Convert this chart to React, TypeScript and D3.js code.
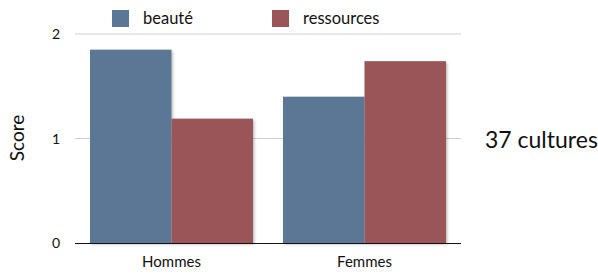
import React, { useRef, useEffect } from 'react';
import * as d3 from 'd3';

const categories = ['Hommes', 'Femmes'];
const seriesNames = ['beauté', 'ressources'];
const beaute = [1.85, 1.4];
const ressources = [1.19, 1.74];
const yTicks = [0, 1, 2];
const colors = ['#5b7696', '#9a5558'];

const App: React.FC = () => {
    const svgRef = useRef<SVGSVGElement>(null);

    const width = 598;
    const height = 274;
    const marginL = 75;
    const marginR = 137;
    const marginT = 34;
    const marginB = 31;

    useEffect(() => {
        if (!svgRef.current) return;
        const svg = d3.select(svgRef.current);
        svg.selectAll('*').remove();

        const font = 'Lato, "Open Sans", sans-serif';

        const defs = svg.append('defs');
        const filt = defs.append('filter').attr('id', 'shadow')
            .attr('x', '-10%').attr('y', '-10%').attr('width', '130%').attr('height', '130%');
        filt.append('feDropShadow').attr('dx', 1.5).attr('dy', 1.5)
            .attr('stdDeviation', 1.2).attr('flood-color', '#000').attr('flood-opacity', 0.25);

        const x0 = d3.scaleBand()
            .domain(categories)
            .range([marginL, width - marginR])
            .paddingInner(0)
            .paddingOuter(0);

        const x1 = d3.scaleBand()
            .domain(seriesNames)
            .range([15, x0.bandwidth() - 15]);

        const y = d3.scaleLinear()
            .domain([0, 2])
            .range([height - marginB, marginT]);

        // grid
        svg.append('g')
            .selectAll('line')
            .data(yTicks.filter(t => t > 0))
            .enter()
            .append('line')
            .attr('x1', marginL)
            .attr('x2', width - marginR)
            .attr('y1', d => y(d))
            .attr('y2', d => y(d))
            .attr('stroke', '#cfcfcf')
            .attr('stroke-width', 1);

        // tick labels
        svg.append('g')
            .selectAll('text')
            .data(yTicks)
            .enter()
            .append('text')
            .attr('x', 56)
            .attr('y', d => y(d) + 5)
            .attr('text-anchor', 'middle')
            .attr('font-family', font)
            .attr('font-size', 14)
            .attr('fill', '#111')
            .text(d => d.toString());

        const values = [beaute, ressources];

        // bars
        const groups = svg.append('g')
            .selectAll('g')
            .data(categories)
            .enter()
            .append('g')
            .attr('transform', d => `translate(${x0(d)},0)`);

        groups.selectAll('rect')
            .data((d, i) => seriesNames.map((s, j) => ({ s, v: values[j][i], j })))
            .enter()
            .append('rect')
            .attr('x', d => x1(d.s)!)
            .attr('y', d => y(d.v))
            .attr('width', x1.bandwidth())
            .attr('height', d => y(0) - y(d.v))
            .attr('fill', d => colors[d.j])
            .attr('filter', 'url(#shadow)');

        // baseline
        svg.append('line')
            .attr('x1', marginL)
            .attr('x2', width - marginR)
            .attr('y1', y(0) + 0.5)
            .attr('y2', y(0) + 0.5)
            .attr('stroke', '#111')
            .attr('stroke-width', 1.2);

        // category labels
        svg.append('g')
            .selectAll('text')
            .data(categories)
            .enter()
            .append('text')
            .attr('x', d => x0(d)! + x0.bandwidth() / 2)
            .attr('y', 267)
            .attr('text-anchor', 'middle')
            .attr('font-family', font)
            .attr('font-size', 15)
            .attr('fill', '#111')
            .text(d => d);

        // legend
        const legendX = [112, 272];
        const legend = svg.append('g')
            .selectAll('g')
            .data(seriesNames)
            .enter()
            .append('g')
            .attr('transform', (d, i) => `translate(${legendX[i]},10)`);
        legend.append('rect')
            .attr('width', 17)
            .attr('height', 17)
            .attr('fill', (d, i) => colors[i]);
        legend.append('text')
            .attr('x', 31)
            .attr('y', 14)
            .attr('font-family', font)
            .attr('font-size', 16.5)
            .attr('fill', '#111')
            .text(d => d);

        // y title
        svg.append('text')
            .attr('transform', 'translate(24,138) rotate(-90)')
            .attr('text-anchor', 'middle')
            .attr('font-family', font)
            .attr('font-size', 19)
            .attr('fill', '#111')
            .text('Score');

        // side annotation
        svg.append('text')
            .attr('x', 485)
            .attr('y', 148)
            .attr('font-family', font)
            .attr('font-size', 23)
            .attr('fill', '#111')
            .text('37 cultures');
    }, []);

    return (
        <svg
            ref={svgRef}
            width={width}
            height={height}
            style={{ position: 'absolute', left: 0, top: 0, background: '#fff' }}
        />
    );
};

export default App;
